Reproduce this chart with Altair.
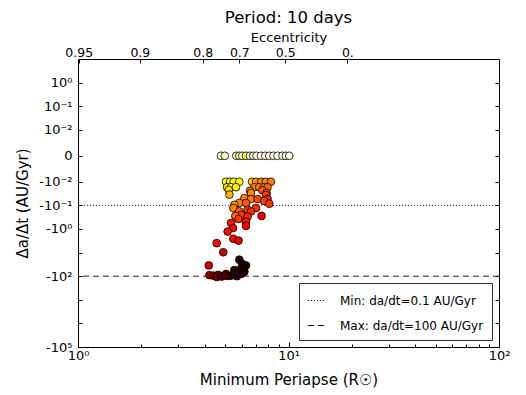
import math
import altair as alt
import pandas as pd

# ---------------- data ----------------
periapse = [
    4.78, 4.98, 5.65, 5.84, 6.03, 6.28, 6.56, 6.80, 7.05, 7.40, 7.76, 8.10, 8.49, 8.87, 9.37, 9.72, 10.08,
    5.05, 5.28, 5.49, 5.84, 6.71, 7.01, 7.42, 7.81, 8.25,
    5.11, 5.33, 5.63, 6.88, 7.26, 7.67, 7.95,
    5.20, 5.24, 6.56, 6.63, 7.51, 7.87, 7.81, 6.17, 7.95, 6.63, 7.13, 7.67, 5.84, 6.28, 8.10, 5.53,
    5.47, 7.01, 6.39, 5.84, 6.63, 5.95, 5.59, 7.45, 6.39, 5.79, 6.28, 5.33, 6.28, 5.45, 5.14, 5.47,
    5.79, 4.56, 4.90, 4.18,
    4.21, 4.40, 4.63, 4.56, 4.81, 5.05, 5.14, 5.33, 5.53, 5.69, 5.95, 5.84, 6.05, 5.53, 5.95, 6.17,
    6.28, 6.17, 4.98, 5.60,
]
dadt = [
    0, 0, 0, 0, 0, 0, 0, 0, 0, 0, 0, 0, 0, 0, 0, 0, 0,
    -0.01, -0.01, -0.01, -0.01, -0.01, -0.01, -0.01, -0.01, -0.01,
    -0.017, -0.017, -0.017, -0.017, -0.017, -0.017, -0.017,
    -0.022, -0.035, -0.024, -0.030, -0.023, -0.030, -0.036, -0.049, -0.054, -0.054, -0.054, -0.065,
    -0.079, -0.079, -0.085, -0.095,
    -0.13, -0.13, -0.155, -0.18, -0.18, -0.25, -0.28, -0.28, -0.30, -0.38, -0.49, -0.56, -0.74, -0.92,
    -1.29, -2.6, -3.1, -4.0, -9.7, -35,
    -90, -95, -88, -108, -104, -80, -98, -95, -88, -100, -80, -20, -31, -55, -48, -65,
    -35, -45, -92, -75,
]
heat = [
    0.96, 0.94, 0.92, 0.93, 0.95, 0.80, 0.97, 0.95, 0.97, 0.97, 0.98, 0.97, 0.98, 0.97, 0.98, 0.97, 0.98,
    0.76, 0.77, 0.75, 0.74, 0.66, 0.58, 0.57, 0.56, 0.55,
    0.73, 0.74, 0.72, 0.56, 0.55, 0.54, 0.52,
    0.70, 0.64, 0.55, 0.57, 0.50, 0.49, 0.45, 0.56, 0.42, 0.55, 0.48, 0.46, 0.56, 0.50, 0.44, 0.58,
    0.56, 0.44, 0.45, 0.52, 0.43, 0.45, 0.52, 0.34, 0.42, 0.44, 0.40, 0.40, 0.36, 0.38,
    0.38, 0.37, 0.33, 0.38, 0.28, 0.30,
    0.22, 0.18, 0.18, 0.15, 0.12, 0.12, 0.10, 0.08, 0.06, 0.05, 0.04, 0.02, 0.02, 0.04, 0.03, 0.03,
    0.02, 0.02, 0.10, 0.05,
]

rule_values = [-0.1, -100.0]
rule_labels = ["Min: da/dt=0.1 AU/Gyr", "Max: da/dt=100 AU/Gyr"]

ecc_labels = ["0.95", "0.9", "0.8", "0.7", "0.5", "0."]
ecc_periapse = [1.008, 1.967, 3.912, 5.84, 9.65, 19.04]

xtick_major = [1, 10, 100]
xtick_major_labels = ["10⁰", "10¹", "10²"]
xtick_minor = [2, 3, 4, 5, 6, 7, 8, 9, 20, 30, 40, 50, 60, 70, 80, 90]

ytick_values = [1, 0.1, 0.01, 0, -0.01, -0.1, -1, -10, -100, -1000, -10000, -100000]
ytick_labels = ["10⁰", "10⁻¹", "10⁻²", "0", "-10⁻²", "-10⁻¹", "-10⁰", "", "-10²", "", "", "-10⁵"]

# ---------------- symlog-style y transform ----------------
LIN = 0.01
LINSCALE = 1.1


def sym(v):
    if v == 0:
        return 0.0
    if abs(v) < LIN:
        return v / LIN * LINSCALE
    return math.copysign(math.log10(abs(v) / LIN) + LINSCALE, v)


SYM_EXPR = (
    f"datum.v == 0 ? 0 : (abs(datum.v) < {LIN} ? datum.v / {LIN} * {LINSCALE} : "
    f"(datum.v < 0 ? -1 : 1) * (log(abs(datum.v) / {LIN}) / LN10 + {LINSCALE}))"
)

ytick_t = [round(sym(v), 4) for v in ytick_values]
y_domain = [sym(-1e5), sym(10)]


def label_expr(vals, labels):
    expr = "''"
    for v, l in reversed(list(zip(vals, labels))):
        expr = f"abs(datum.value - ({v})) < 1e-4 ? '{l}' : {expr}"
    return expr


W, H = 421, 288
FONT = "DejaVu Sans"

pts = pd.DataFrame({"P": periapse, "v": dadt, "heat": heat})
rules = pd.DataFrame({"v": rule_values, "label": rule_labels})

xscale = alt.Scale(type="log", domain=[1, 100], nice=False)
yscale = alt.Scale(domain=y_domain, nice=False, zero=False)

base = alt.Chart(pts).transform_calculate(t=SYM_EXPR)

rule_layer = alt.Chart(rules).transform_calculate(t=SYM_EXPR).mark_rule(
    color="#222222", strokeWidth=1
).encode(
    y=alt.Y("t:Q", scale=yscale, axis=None),
    strokeDash=alt.StrokeDash(
        "label:N",
        scale=alt.Scale(domain=rule_labels, range=[[1, 2], [6, 4]]),
        legend=alt.Legend(
            orient="bottom-right", title=None, offset=7, padding=8,
            fillColor="white", strokeColor="#333333", cornerRadius=0,
            labelFont=FONT, labelFontSize=12, labelColor="black", labelLimit=300,
            symbolType="stroke", symbolSize=300, symbolStrokeWidth=1.2,
            symbolStrokeColor="black", rowPadding=9, labelOffset=14,
        ),
    ),
)

point_layer = base.mark_circle(size=60, stroke="black", strokeWidth=0.8, opacity=1).encode(
    x=alt.X("P:Q", scale=xscale, axis=alt.Axis(
        orient="bottom", values=xtick_major,
        labelExpr=label_expr(xtick_major, xtick_major_labels), labelFlush=False,
        ticks=False, domain=False, grid=False, labelFontSize=13, labelPadding=2,
        title="Minimum Periapse (R☉)", titleFontSize=15, titlePadding=10)),
    y=alt.Y("t:Q", scale=yscale, axis=alt.Axis(
        orient="left", values=ytick_t, labelExpr=label_expr(ytick_t, ytick_labels),
        ticks=False, domain=False, grid=False, labelFontSize=13, labelPadding=6,
        title="Δa/Δt (AU/Gyr)", titleFontSize=15, titlePadding=8)),
    color=alt.Color("heat:Q", legend=None, scale=alt.Scale(
        domain=[0, 0.365, 0.746, 1], range=["#0b0000", "#ff0000", "#ffff00", "#ffffff"],
        interpolate="rgb")),
)

ghost_top = base.mark_circle(opacity=0).encode(
    x=alt.X("P:Q", scale=xscale, axis=alt.Axis(
        orient="top", values=ecc_periapse, labelExpr=label_expr(ecc_periapse, ecc_labels),
        labelFlush=False, ticks=False, domain=False, grid=False, labelFontSize=12.5,
        labelPadding=0, title="Eccentricity", titleFontSize=13, titlePadding=2)),
    y=alt.Y("t:Q", scale=yscale, axis=alt.Axis(
        orient="right", offset=-W, values=ytick_t, labels=False, domain=False,
        grid=False, ticks=True, tickSize=4, title="")),
)

ghost_inner = base.mark_circle(opacity=0).encode(
    x=alt.X("P:Q", scale=xscale, axis=alt.Axis(
        orient="top", offset=-H, values=xtick_major + xtick_minor, labels=False,
        domain=False, grid=False, ticks=True,
        tickSize={"condition": {"test": "indexof([1, 10, 100], datum.value) >= 0", "value": 5},
                  "value": 3},
        title="")),
    y=alt.Y("t:Q", scale=yscale, axis=alt.Axis(
        orient="left", offset=-W, values=ytick_t, labels=False, domain=False,
        grid=False, ticks=True, tickSize=4, title="")),
)

ghost_topticks = base.mark_circle(opacity=0).encode(
    x=alt.X("P:Q", scale=xscale, axis=alt.Axis(
        orient="bottom", offset=-H, values=ecc_periapse, labels=False, domain=False,
        grid=False, ticks=True, tickSize=4, title="")),
    y=alt.Y("t:Q", scale=yscale, axis=None),
)

chart = alt.layer(
    rule_layer, point_layer, ghost_top, ghost_inner, ghost_topticks
).resolve_axis(
    x="independent", y="independent"
).properties(
    width=W, height=H,
    autosize=alt.AutoSizeParams(type="none"),
    padding={"left": 70, "top": 51, "right": 12, "bottom": 48},
    title=alt.TitleParams("Period: 10 days", fontSize=16.5, font=FONT, fontWeight="normal",
                          anchor="middle", frame="group", offset=5, color="black"),
).configure_axis(
    labelFont=FONT, titleFont=FONT, labelColor="black", titleColor="black",
    titleFontWeight="normal", tickColor="black", tickWidth=1,
).configure_view(
    stroke="black", strokeWidth=1,
)

chart.save("out.html", embed_options={"renderer": "svg", "actions": False})
